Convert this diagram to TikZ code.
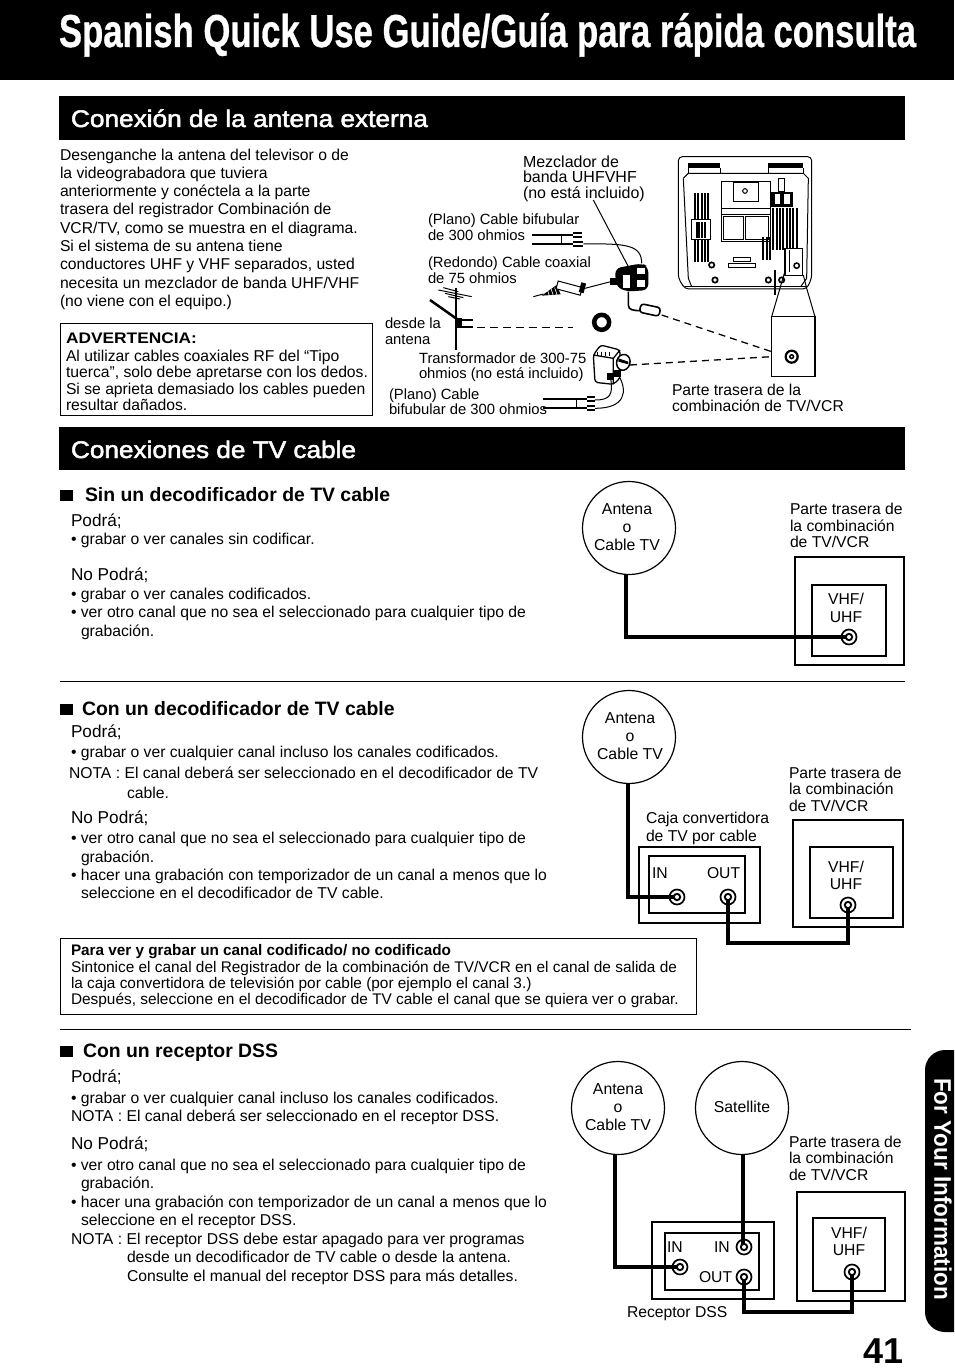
\documentclass[tikz,border=0pt]{standalone}
\usepackage{fontspec}
\setmainfont{Liberation Sans}
\newfontfamily\heavyfont[BoldFont={Liberation Sans Bold},BoldFeatures={FakeBold=0.8}]{Liberation Sans}
\newfontfamily\secfont[FakeBold=2.0]{Liberation Sans}
\newcounter{tx}
\newcommand\Tx[4][body]{\stepcounter{tx}\node[#1] (tx\arabic{tx}) at (#2,#3) {#4};}
\tikzset{
  base/.style={inner sep=0pt,outer sep=0pt,text=black},
  body/.style={base,anchor=base west,yshift=-5.5pt,font=\fontsize{15.7}{18}\selectfont},
  boxt/.style={body,font=\fontsize{15.4}{18}\selectfont},
  bodyc/.style={body,anchor=base},
  lbl/.style={body,font=\fontsize{15.7}{18}\selectfont},
  lbls/.style={body,font=\fontsize{14.8}{18}\selectfont},
  lblm/.style={body,font=\fontsize{16}{18}\selectfont},
  pod/.style={body,font=\fontsize{17.2}{18}\selectfont},
  head/.style={base,anchor=base west,yshift=-6.5pt,font=\fontsize{19.4}{22}\bfseries\selectfont},
  boldt/.style={body,font=\fontsize{15.3}{18}\bfseries\selectfont},
  band/.style={fill=black,draw=none},
  bandt/.style={base,anchor=base west,text=white},
  frame/.style={draw,line width=1.3pt,fill=white,inner sep=0pt},
  ring/.style={draw,circle,line width=1.2pt,fill=white,inner sep=0pt,minimum size=93pt},
  ringt/.style={base,align=center,font=\fontsize{15.8}{18}\selectfont},
  sock/.style={draw,circle,line width=1.7pt,fill=white,inner sep=0pt,minimum size=15pt},
  cable/.style={line width=3.2pt,line join=miter},
  rule/.style={line width=1pt},
  stripe/.style={line width=1.8pt},
  dsh/.style={line width=1.3pt,dash pattern=on 7pt off 5pt},
  thin/.style={line width=1pt},
  wire/.style={line width=2pt},
}
\newcommand\SockIn[1]{\fill (#1) circle (4.2pt); \fill[white] (#1) circle (2pt);}
\begin{document}
\begin{tikzpicture}[x=1pt,y=-1pt,line cap=butt]
\useasboundingbox (0,0) rectangle (954,1370);
\fill[white] (0,0) rectangle (954,1370);
% title band
\fill[band] (0,0) rectangle (954,80);
\node[bandt] (title) at (59,47) {\resizebox{857pt}{\height}{\scalebox{1}[1.1]{\fontsize{42}{46}\heavyfont\bfseries\selectfont Spanish Quick Use Guide/Guía para rápida consulta}}};
% section bands
\fill[band] (59,96) rectangle (905,140);
\node[bandt] (sec1) at (71,127) {\resizebox{357pt}{\height}{\fontsize{24}{28}\secfont\selectfont Conexión de la antena externa}};
\fill[band] (59,427) rectangle (905,470);
\node[bandt] (sec2) at (71,458) {\resizebox{285pt}{\height}{\fontsize{24}{28}\secfont\selectfont Conexiones de TV cable}};
% tab
\fill[black] (954,1050) [rounded corners=20pt] -- (925,1050) -- (925,1332) [sharp corners] -- (954,1332) -- cycle;
\node[base,text=white,rotate=-90,font=\fontsize{24}{26}\bfseries\selectfont] (tab) at (943,1189) {\resizebox{222pt}{\height}{For Your Information}};
\node[base,anchor=base east,font=\fontsize{36}{40}\bfseries\selectfont] (pg) at (904,1363) {41};
% left paragraph
\Tx{60}{155}{Desenganche la antena del televisor o de}
\Tx{60}{173}{la videograbadora que tuviera}
\Tx{60}{191}{anteriormente y conéctela a la parte}
\Tx{60}{209}{trasera del registrador Combinación de}
\Tx{60}{228}{VCR/TV, como se muestra en el diagrama.}
\Tx{60}{246}{Si el sistema de su antena tiene}
\Tx{60}{264}{conductores UHF y VHF separados, usted}
\Tx{60}{283}{necesita un mezclador de banda UHF/VHF}
\Tx{60}{301}{(no viene con el equipo.)}
% advertencia
\draw[rule] (60,415) -- (60,323) -- (372,323) -- (372,415) -- cycle;
\Tx[boldt]{66}{338}{\resizebox{131pt}{\height}{ADVERTENCIA:}}
\Tx{66}{356}{Al utilizar cables coaxiales RF del “Tipo}
\Tx{66}{372}{tuerca”, solo debe apretarse con los dedos.}
\Tx{66}{389}{Si se aprieta demasiado los cables pueden}
\Tx{66}{405}{resultar dañados.}
% labels of the antenna drawing
\Tx[lblm]{523}{162}{Mezclador de}
\Tx[lblm]{523}{177}{banda UHFVHF}
\Tx[lblm]{523}{193}{(no está incluido)}
\Tx[lbls]{428}{219}{(Plano) Cable bifubular}
\Tx[lbls]{428}{235}{de 300 ohmios}
\Tx[lbls]{428}{262}{(Redondo) Cable coaxial}
\Tx[lbls]{428}{278}{de 75 ohmios}
\Tx[lbls]{385}{323}{desde la}
\Tx[lbls]{385}{339}{antena}
\Tx[lbls]{419}{358}{Transformador de 300-75}
\Tx[lbls]{419}{373}{ohmios (no está incluido)}
\Tx[lbls]{389}{394}{(Plano) Cable}
\Tx[lbls]{389}{409}{bifubular de 300 ohmios}
\Tx[lbl]{672}{390}{Parte trasera de la}
\Tx[lbl]{672}{406}{combinación de TV/VCR}
% antenna drawing, in crop coordinates
\begin{scope}[shift={(380,145)},x=0.33333pt,y=-0.33333pt]
 % TV rear
 \draw[line width=1pt,rounded corners=4pt] (895,400) -- (895,35) -- (1295,35) -- (1295,400) -- (1280,432) -- (915,432) -- cycle;
 \fill (925,55) rectangle (1020,68); \fill (1165,55) rectangle (1270,68);
 \draw[thin] (925,68) -- (925,85) (1020,68)--(1020,85) (1165,68)--(1165,85) (1270,68)--(1270,85);
 \draw[thin] (910,100) -- (925,85) -- (1270,85) -- (1285,100) -- (1280,400) -- (1262,425);
 \draw[thin] (910,100) -- (925,400) -- (935,425);
 \foreach \i in {945,955,...,985} \draw[stripe] (\i,145) -- (\i,350);
 \fill[white] (935,225) rectangle (990,285);
 \draw[thin] (935,225) rectangle (990,285);
 \foreach \i in {950,958,966,974} \draw[stripe] (\i,232) -- (\i,280);
 \foreach \i in {1180,1190,...,1250} \draw[stripe] (\i,190) -- (\i,315);
 \foreach \i in {1150,1160,1170} \draw[stripe] (\i,275) -- (\i,345);
 \draw[thin] (1025,110) rectangle (1170,190);
 \draw[thin] (1060,112) rectangle (1135,170);
 \draw[thin] (1095,138) circle (7);
 \draw[thin] (1025,190) rectangle (1170,290);
 \draw[thin] (1025,210) -- (1170,210);
 \draw[thin] (1030,215) rectangle (1090,285);
 \draw[thin] (1095,215) rectangle (1165,285);
 \fill (1170,140) rectangle (1240,185);
 \fill[white] (1185,148) rectangle (1200,178);
 \fill[white] (1212,148) rectangle (1230,178);
 \draw[thin] (1195,100) rectangle (1212,140);
 \draw[thin] (1060,338) rectangle (1110,350);
 \draw[thin] (1045,355) rectangle (1125,368);
 \foreach \a/\b in {995/360,1005/405,1165/405,1205/405} \draw[line width=1.7pt] (\a,\b) circle (8);
 \draw[line width=1.7pt] (1185,375) -- (1185,450);
 \draw[line width=1.6pt] (915,424) -- (1280,424);
 % connection panel on the set and enlarged panel
 \draw[frame] (1215,310) rectangle (1267,392);
 \draw[line width=1.5pt] (1250,362) circle (8);
 \draw[thin] (1228,315) -- (1228,380);
 \draw[thin] (1213,385) -- (1175,515) (1270,390) -- (1280,430) -- (1305,515);
 \draw[frame] (1175,515) rectangle (1305,695);
 \node[draw,circle,line width=2.2pt,minimum size=12pt,inner sep=0pt,fill=white] (bigsock) at (1235,635) {};
 \fill (bigsock.center) circle (8);
 \fill[white] (bigsock.center) circle (3);
 % flat cable, mixer
 \draw[wire] (455,270) -- (578,270); \draw[wire] (455,297) -- (578,297);
 \draw[thin] (545,270) -- (545,297);
 \draw[wire] (578,263) -- (605,263) (578,277) -- (605,277) (578,290) -- (610,290) (578,304) -- (610,304);
 \draw[thin] (610,297) .. controls (740,295) and (785,300) .. (785,355);
 \draw[thin] (640,165) -- (745,365);
 \fill[rounded corners=6pt] (705,370) -- (785,355) -- (805,365) -- (805,435) -- (740,440) -- (708,425) -- cycle;
 \fill[white] (730,390) rectangle (750,430);
 \fill[white] (772,368) rectangle (795,388);
 \fill[white] (772,405) rectangle (795,425);
 \fill (690,400) rectangle (712,420);
 % coaxial plug
 \draw[thin] (460,455) -- (490,447);
 \fill (485,452) -- (530,420) -- (542,448) -- cycle;
 \foreach \i in {500,512,524} \draw[white,line width=0.6pt] (\i,428) -- (\i+8,452);
 \draw[thin,fill=white,rotate around={-15:(570,430)}] (530,418) rectangle (605,442);
 \fill[rotate around={-15:(610,428)}] (600,414) rectangle (615,444);
 \draw[thin] (615,430) -- (692,410);
 % lead and barrel
 \draw[line width=1.6pt] (745,440) -- (745,480) .. controls (745,495) and (760,497) .. (782,497);
 \draw[line width=1.6pt,fill=white,rotate around={-12:(810,495)},rounded corners=3pt] (780,482) rectangle (840,508);
 \coordinate (barrel) at (845,510);
 \coordinate (plugin) at (1175,620);
 \draw[dsh] (barrel) -- (plugin);
 % antenna
 \draw[line width=1.5pt] (228,430) -- (228,615);
 \draw[line width=2.5pt] (150,465) -- (235,525);
 \draw[thin] (175,435) -- (275,455) (190,428) -- (235,440) (195,445) -- (250,458) (205,455) -- (240,462);
 \draw[line width=2pt] (228,460) -- (228,525);
 \fill (230,520) rectangle (245,550);
 \draw[wire] (245,525) -- (280,525) (245,547) -- (280,547);
 \coordinate (antend) at (290,547);
 \coordinate (dashend) at (580,547);
 \draw[line width=1.5pt,dash pattern=on 8pt off 5pt] (antend) -- (dashend);
 \node[draw,circle,line width=4.5pt,minimum size=15pt,inner sep=0pt] (o) at (665,532) {};
 % transformer
 \draw[line width=1.3pt,fill=white,rounded corners=3pt] (640,630) -- (662,600) -- (720,615) -- (720,700) -- (700,718) -- (645,712) -- cycle;
 \draw[line width=1.3pt] (640,630) -- (700,640) -- (720,615) (700,640) -- (700,718);
 \foreach \i in {652,664,676,688} \draw[thin] (\i,620) -- (\i,632);
 \draw[line width=1.5pt,fill=white,rotate around={-15:(730,652)}] (730,652) ellipse (20 and 24);
 \fill (715,640) -- (745,650) -- (745,658) -- (715,650) -- cycle;
 \fill (680,685) rectangle (698,705);
 \fill (700,675) rectangle (722,695);
 \coordinate (trout) at (750,660);
 \coordinate (plugin2) at (1175,635);
 \draw[dsh] (trout) -- (plugin2);
 \draw[thin] (692,700) .. controls (700,750) and (690,765) .. (645,765);
 \draw[thin] (715,690) .. controls (745,740) and (735,790) .. (645,790);
 \draw[wire] (490,762) -- (622,762); \draw[wire] (490,790) -- (622,790);
 \draw[thin] (590,762) -- (590,790);
 \draw[wire] (622,756) -- (645,756) (622,768) -- (645,768) (622,784) -- (645,784) (622,796) -- (645,796);
\end{scope}
% Sin un decodificador
\fill (60,490) rectangle (73,501);
\Tx[head]{85}{495}{Sin un decodificador de TV cable}
\Tx[pod]{71}{521}{Podrá;}
\Tx{71}{539}{• grabar o ver canales sin codificar.}
\Tx[pod]{71}{575}{No Podrá;}
\Tx{71}{594}{• grabar o ver canales codificados.}
\Tx{71}{612}{• ver otro canal que no sea el seleccionado para cualquier tipo de}
\Tx{81}{631}{grabación.}
\Tx[lbl]{790}{509}{Parte trasera de}
\Tx[lbl]{790}{526}{la combinación}
\Tx[lbl]{790}{542}{de TV/VCR}
\node[ring] (a1) at (629,528) {};
\node[ringt] (a1t) at (627,527) {Antena\\o\\Cable TV};
\draw[frame] (795,557) rectangle (904,665);
\draw[frame] (812,585) rectangle (886,656);
\Tx[bodyc]{846}{599}{VHF/}
\Tx[bodyc]{846}{617}{UHF}
\node[sock] (s1) at (849,637) {};
\draw[cable] (a1.south -| 626,0) -- (626,637) -- (s1.center);
\SockIn{s1}
\draw[rule] (60,681) -- (905,681);
% Con un decodificador
\fill (60,704) rectangle (73,715);
\Tx[head]{82}{709}{Con un decodificador de TV cable}
\Tx[pod]{71}{732}{Podrá;}
\Tx{71}{752}{• grabar o ver cualquier canal incluso los canales codificados.}
\Tx{69}{773}{NOTA : El canal deberá ser seleccionado en el decodificador de TV}
\Tx{127}{793}{cable.}
\Tx[pod]{71}{818}{No Podrá;}
\Tx{71}{838}{• ver otro canal que no sea el seleccionado para cualquier tipo de}
\Tx{81}{857}{grabación.}
\Tx{71}{875}{• hacer una grabación con temporizador de un canal a menos que lo}
\Tx{81}{893}{seleccione en el decodificador de TV cable.}
\node[ring] (a2) at (629,737) {};
\node[ringt] (a2t) at (630,736) {Antena\\o\\Cable TV};
\Tx[lbl]{789}{773}{Parte trasera de}
\Tx[lbl]{789}{789}{la combinación}
\Tx[lbl]{789}{806}{de TV/VCR}
\Tx[lbl]{646}{818}{Caja convertidora}
\Tx[lbl]{646}{836}{de TV por cable}
\draw[frame] (639,847) rectangle (760,923);
\draw[frame] (649,856) rectangle (745,913);
\Tx[lbl]{652}{873}{IN}
\Tx[lbl]{707}{873}{OUT}
\draw[frame] (793,820) rectangle (903,927);
\draw[frame] (810,847) rectangle (893,918);
\Tx[bodyc]{846}{867}{VHF/}
\Tx[bodyc]{846}{884}{UHF}
\node[sock] (s2a) at (677,897) {};
\node[sock] (s2b) at (728,897) {};
\node[sock] (s2c) at (848,905) {};
\draw[cable] (a2.south -| 628,0) -- (628,897) -- (s2a.center);
\draw[cable] (s2b.center) -- (728,943) -- (848,943) -- (s2c.center);
\SockIn{s2a}\SockIn{s2b}\SockIn{s2c}
% box
\draw[rule] (60,1014) -- (60,938) -- (696,938) -- (696,1014) -- cycle;
\Tx[boldt]{71}{950}{Para ver y grabar un canal codificado/ no codificado}
\Tx[boxt]{71}{967}{Sintonice el canal del Registrador de la combinación de TV/VCR en el canal de salida de}
\Tx[boxt]{71}{983}{la caja convertidora de televisión por cable (por ejemplo el canal 3.)}
\Tx[boxt]{71}{999}{Después, seleccione en el decodificador de TV cable el canal que se quiera ver o grabar.}
\draw[rule] (60,1029) -- (911,1029);
% Con un receptor
\fill (60,1046) rectangle (73,1057);
\Tx[head]{83}{1051}{Con un receptor DSS}
\Tx[pod]{71}{1077}{Podrá;}
\Tx{71}{1098}{• grabar o ver cualquier canal incluso los canales codificados.}
\Tx{71}{1116}{NOTA : El canal deberá ser seleccionado en el receptor DSS.}
\Tx[pod]{71}{1144}{No Podrá;}
\Tx{71}{1165}{• ver otro canal que no sea el seleccionado para cualquier tipo de}
\Tx{81}{1183}{grabación.}
\Tx{71}{1202}{• hacer una grabación con temporizador de un canal a menos que lo}
\Tx{81}{1220}{seleccione en el receptor DSS.}
\Tx{71}{1239}{NOTA : El receptor DSS debe estar apagado para ver programas}
\Tx{127}{1257}{desde un decodificador de TV cable o desde la antena.}
\Tx{127}{1276}{Consulte el manual del receptor DSS para más detalles.}
\node[ring] (a3) at (618,1108) {};
\node[ringt] (a3t) at (618,1107) {Antena\\o\\Cable TV};
\node[ring] (sat) at (742,1108) {};
\node[ringt] (satt) at (742,1107) {Satellite};
\Tx[lbl]{789}{1142}{Parte trasera de}
\Tx[lbl]{789}{1158}{la combinación}
\Tx[lbl]{789}{1175}{de TV/VCR}
\draw[frame] (652,1222) rectangle (774,1299);
\draw[frame] (665,1233) rectangle (759,1290);
\Tx[lbl]{667}{1247}{IN}
\Tx[lbl]{714}{1247}{IN}
\Tx[lbl]{699}{1277}{OUT}
\Tx[lbl]{627}{1312}{Receptor DSS}
\draw[frame] (797,1192) rectangle (905,1301);
\draw[frame] (813,1218) rectangle (885,1291);
\Tx[bodyc]{849}{1233}{VHF/}
\Tx[bodyc]{849}{1250}{UHF}
\node[sock] (s3a) at (680,1267) {};
\node[sock] (s3b) at (744,1247) {};
\node[sock] (s3c) at (744,1277) {};
\node[sock] (s3d) at (852,1272) {};
\draw[cable] (a3.south -| 615,0) -- (615,1267) -- (s3a.center);
\draw[cable] (sat.south -| 743,0) -- (743,1247);
\draw[cable] (s3c.center) -- (744,1312) -- (852,1312) -- (s3d.center);
\SockIn{s3a}\SockIn{s3b}\SockIn{s3c}\SockIn{s3d}
\end{tikzpicture}
\end{document}
